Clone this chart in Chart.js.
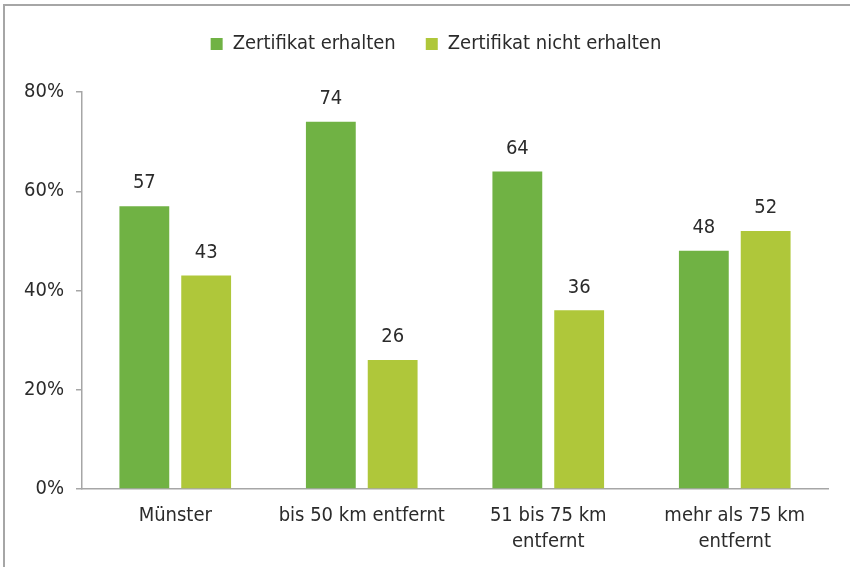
<!DOCTYPE html>
<html>
<head>
<meta charset="utf-8">
<script src="https://cdn.jsdelivr.net/npm/chart.js@4/dist/chart.umd.min.js"></script>
<style>
  html, body { margin: 0; padding: 0; background: #fff; overflow: hidden; }
  #wrap { position: relative; width: 850px; height: 567px; overflow: hidden; }
  #frame { position: absolute; left: 3px; top: 4px; width: 900px; height: 620px; border: 2px solid #a6a6a6; box-sizing: border-box; }
  canvas { position: absolute; left: 0; top: 0; }
</style>
</head>
<body>
<div id="wrap">
  <div id="frame"></div>
  <canvas id="chart" width="850" height="567"></canvas>
</div>
<script>
const categories = ['Münster', 'bis 50 km entfernt', ['51 bis 75 km', 'entfernt'], ['mehr als 75 km', 'entfernt']];
const erhalten = [57, 74, 64, 48];
const nichtErhalten = [43, 26, 36, 52];
const yTicks = [0, 20, 40, 60, 80];

const FONT = "'Liberation Sans Narrow', 'DejaVu Sans Condensed', 'Open Sans', sans-serif";
const TEXT = '#2b2b2b';
const AXIS = '#a6a6a6';

// values above the bars
const barLabels = {
  id: 'barLabels',
  afterDatasetsDraw(chart) {
    const ctx = chart.ctx;
    ctx.save();
    ctx.font = '20px ' + FONT;
    ctx.fillStyle = TEXT;
    ctx.textAlign = 'center';
    ctx.textBaseline = 'middle';
    chart.data.datasets.forEach((ds, i) => {
      chart.getDatasetMeta(i).data.forEach((bar, j) => {
        ctx.fillText(ds.data[j], bar.x, bar.y - 23);
      });
    });
    ctx.restore();
  }
};

// fixed legend height, and legend nudged right like the original
const legendBox = {
  id: 'legendBox',
  beforeInit(chart) {
    const fit = chart.legend.fit;
    chart.legend.fit = function () {
      fit.call(this);
      this.height = 88;
    };
  },
  afterLayout(chart) {
    chart.legend.left += 22;
    chart.legend.right += 22;
  }
};

new Chart(document.getElementById('chart').getContext('2d'), {
  type: 'bar',
  data: {
    labels: categories,
    datasets: [
      { label: 'Zertifikat erhalten', data: erhalten, backgroundColor: '#70b244' },
      { label: 'Zertifikat nicht erhalten', data: nichtErhalten, backgroundColor: '#afc73a' }
    ]
  },
  options: {
    responsive: false,
    animation: false,
    categoryPercentage: 0.663,
    barPercentage: 0.806,
    layout: { padding: { left: 0, right: 22, top: 4, bottom: 0 } },
    plugins: {
      tooltip: { enabled: false },
      legend: {
        position: 'top',
        labels: {
          boxWidth: 12,
          boxHeight: 12,
          padding: 30,
          color: TEXT,
          font: { family: FONT, size: 20 }
        }
      }
    },
    scales: {
      x: {
        grid: { display: false },
        border: { display: true, color: AXIS, width: 1.5 },
        ticks: { color: TEXT, font: { family: FONT, size: 20, lineHeight: 1.3 }, padding: 6, maxRotation: 0 },
        afterFit(scale) { scale.height = 567 - 489; }
      },
      y: {
        min: 0,
        max: 80,
        afterBuildTicks(scale) { scale.ticks = yTicks.map(v => ({ value: v })); },
        grid: { drawOnChartArea: false, drawTicks: true, tickLength: 6, color: AXIS, lineWidth: 1.5 },
        border: { display: true, color: AXIS, width: 1.5 },
        ticks: { color: TEXT, font: { family: FONT, size: 20 }, padding: 12, callback: v => v + '%' },
        afterFit(scale) { scale.width = 82; }
      }
    }
  },
  plugins: [barLabels, legendBox]
});
</script>
</body>
</html>
